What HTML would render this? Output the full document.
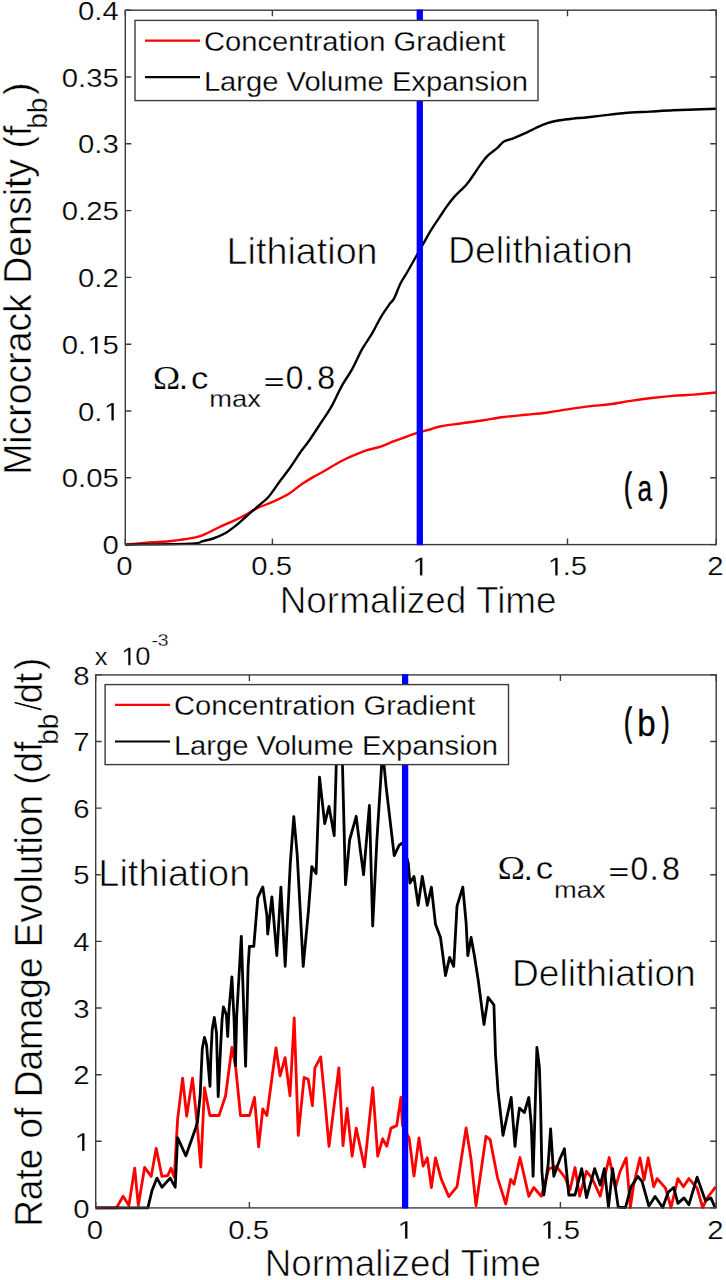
<!DOCTYPE html>
<html><head><meta charset="utf-8"><title>Microcrack density</title>
<style>
html,body{margin:0;padding:0;background:#fff;}
body{width:726px;height:1280px;overflow:hidden;font-family:"Liberation Sans",sans-serif;}
svg{display:block;}
.b{stroke:#fff;stroke-width:0.7px;}
.s{stroke:#fff;stroke-width:0.25px;}
.g1{vector-effect:non-scaling-stroke;}
.k{stroke:#000;stroke-width:1.3px;}
.inv{fill-opacity:0;stroke-opacity:0;}
.k2{stroke:#000;stroke-width:0.3px;}
.b2{stroke:#fff;stroke-width:0.45px;}
</style></head><body>
<svg width="726" height="1280" viewBox="0 0 726 1280" font-family="'Liberation Sans', sans-serif" fill="#000">
<rect width="726" height="1280" fill="#fff"/>
<path d="M125.3,544.6C128.9,544.3 139.7,543.2 147.0,542.6C154.3,542.0 163.6,541.8 169.1,541.3C174.6,540.8 175.5,540.6 180.1,539.9C184.7,539.2 192.0,538.2 196.6,537.1C201.2,536.0 203.5,534.8 207.6,533.0C211.7,531.2 216.8,528.2 221.4,526.1C226.0,524.0 231.1,522.0 235.2,520.1C239.3,518.2 242.5,516.5 246.2,514.5C249.9,512.5 252.6,510.4 257.2,508.2C261.8,506.0 268.3,503.9 273.8,501.3C279.3,498.8 285.4,495.8 290.0,492.9C294.6,490.0 297.8,486.8 301.6,484.2C305.5,481.6 309.2,479.4 313.1,477.1C317.0,474.9 320.2,473.3 324.7,470.7C329.2,468.1 335.3,464.3 340.1,461.7C344.9,459.1 349.1,457.2 353.6,455.3C358.1,453.4 362.6,451.6 367.1,450.1C371.6,448.7 376.1,448.1 380.6,446.6C385.1,445.1 389.9,442.8 394.1,441.2C398.3,439.6 401.8,438.4 405.7,437.0C409.6,435.6 413.2,434.1 417.3,432.8C421.4,431.6 426.0,430.6 430.0,429.5C434.0,428.4 435.8,427.2 441.1,426.2C446.5,425.2 455.1,424.3 462.1,423.3C469.1,422.3 476.2,421.4 483.2,420.3C490.2,419.2 497.3,417.9 504.3,417.0C511.3,416.1 518.4,415.5 525.4,414.8C532.4,414.1 539.4,413.6 546.4,412.7C553.4,411.8 560.5,410.4 567.5,409.4C574.5,408.3 581.6,407.2 588.6,406.4C595.6,405.5 602.7,405.2 609.7,404.3C616.7,403.4 623.7,401.9 630.7,400.9C637.7,399.8 644.8,398.8 651.8,398.0C658.8,397.2 665.9,396.5 672.9,395.9C679.9,395.3 686.8,395.2 694.0,394.6C701.2,394.0 712.5,392.9 716.2,392.5" fill="none" stroke="#ff0000" stroke-width="2.4" stroke-linejoin="round"/>
<path d="M125.3,544.6C136.3,544.4 178.3,544.2 191.1,543.6C203.9,543.0 198.4,542.1 202.1,541.3C205.8,540.4 209.5,539.8 213.2,538.5C216.9,537.2 220.5,535.9 224.2,533.8C227.9,531.7 231.5,529.0 235.2,526.1C238.9,523.2 242.5,519.7 246.2,516.5C249.9,513.3 253.5,510.0 257.2,506.8C260.9,503.6 264.5,501.3 268.2,497.2C271.9,493.1 275.7,486.9 279.3,482.0C282.9,477.1 286.3,473.1 290.0,467.8C293.7,462.6 298.3,455.1 301.6,450.5C304.9,445.9 306.2,444.9 309.6,440.0C313.0,435.1 318.3,426.8 322.0,421.2C325.7,415.6 328.5,411.8 331.7,406.1C334.9,400.4 337.9,393.0 341.3,386.8C344.7,380.6 348.8,375.2 352.3,368.9C355.8,362.6 358.8,355.0 362.1,349.1C365.4,343.2 368.9,339.0 372.0,333.7C375.1,328.4 377.9,322.1 380.9,317.1C383.8,312.1 387.5,307.0 389.7,303.9C391.9,300.8 392.3,301.9 394.1,298.4C395.9,294.9 398.5,287.4 400.7,283.0C402.9,278.6 404.7,276.4 407.3,272.0C409.9,267.6 413.3,261.4 416.1,256.5C418.9,251.6 421.3,247.2 423.9,242.7C426.5,238.1 429.0,233.4 431.6,229.2C434.2,225.0 436.7,221.4 439.3,217.6C441.9,213.8 444.4,209.6 447.0,206.1C449.6,202.6 451.5,199.9 454.7,196.4C457.9,192.9 463.1,188.5 466.3,184.8C469.5,181.1 471.8,177.4 474.0,174.2C476.2,171.0 477.6,168.6 479.8,165.6C482.1,162.6 484.6,158.8 487.5,155.9C490.4,153.0 494.4,150.6 497.1,148.2C499.8,145.8 501.3,143.1 503.9,141.5C506.5,139.9 509.2,139.9 512.6,138.6C516.0,137.3 520.2,135.5 524.1,133.7C528.0,131.9 531.8,129.8 535.7,128.0C539.6,126.2 543.2,124.4 547.3,123.1C551.3,121.8 555.7,121.0 560.0,120.2C564.3,119.5 568.3,119.1 573.0,118.6C577.7,118.1 581.8,117.9 588.0,117.2C594.2,116.5 602.8,115.4 610.0,114.6C617.2,113.8 624.3,113.0 631.0,112.5C637.7,112.0 643.0,112.0 650.0,111.6C657.0,111.2 665.5,110.6 673.0,110.3C680.5,110.0 687.8,109.8 695.0,109.5C702.2,109.2 712.7,108.9 716.2,108.8" fill="none" stroke="#000" stroke-width="2.4" stroke-linejoin="round"/>
<rect x="125.3" y="10.2" width="590.9" height="534.4" fill="none" stroke="#3c3c3c" stroke-width="1.4"/>
<path d="M125.3,544.6v-6M125.3,10.2v6M272.4,544.6v-6M272.4,10.2v6M420.0,544.6v-6M420.0,10.2v6M567.5,544.6v-6M567.5,10.2v6M716.2,544.6v-6M716.2,10.2v6M125.3,544.6h6M716.2,544.6h-6M125.3,477.8h6M716.2,477.8h-6M125.3,411.0h6M716.2,411.0h-6M125.3,344.2h6M716.2,344.2h-6M125.3,277.4h6M716.2,277.4h-6M125.3,210.6h6M716.2,210.6h-6M125.3,143.8h6M716.2,143.8h-6M125.3,77.0h6M716.2,77.0h-6M125.3,10.2h6M716.2,10.2h-6" stroke="#3c3c3c" stroke-width="1.4" fill="none"/>
<line x1="419.8" y1="9.5" x2="419.8" y2="545.3" stroke="#0000ff" stroke-width="6.3"/>
<text class="s" transform="translate(118.80,554.20) scale(1.1500,1.0000)" font-size="25.5" text-anchor="end" >0</text>
<text class="s" transform="translate(118.80,487.40) scale(1.1500,1.0000)" font-size="25.5" text-anchor="end" >0.05</text>
<path class="s g1" d="M615,0L615,1237L297,1010L297,1180L630,1409L796,1409L796,0Z" transform="translate(102.49,420.60) scale(0.01432,-0.01245)"/>
<text class="s" transform="translate(118.80,420.60) scale(1.1500,1.0000)" font-size="25.5" text-anchor="end" >0.<tspan class="inv">1</tspan></text>
<path class="s g1" d="M615,0L615,1237L297,1010L297,1180L630,1409L796,1409L796,0Z" transform="translate(86.18,353.80) scale(0.01432,-0.01245)"/>
<text class="s" transform="translate(118.80,353.80) scale(1.1500,1.0000)" font-size="25.5" text-anchor="end" >0.<tspan class="inv">1</tspan>5</text>
<text class="s" transform="translate(118.80,287.00) scale(1.1500,1.0000)" font-size="25.5" text-anchor="end" >0.2</text>
<text class="s" transform="translate(118.80,220.20) scale(1.1500,1.0000)" font-size="25.5" text-anchor="end" >0.25</text>
<text class="s" transform="translate(118.80,153.40) scale(1.1500,1.0000)" font-size="25.5" text-anchor="end" >0.3</text>
<text class="s" transform="translate(118.80,86.60) scale(1.1500,1.0000)" font-size="25.5" text-anchor="end" >0.35</text>
<text class="s" transform="translate(118.80,19.80) scale(1.1500,1.0000)" font-size="25.5" text-anchor="end" >0.4</text>
<text class="s" transform="translate(124.50,575.40) scale(1.1500,1.0000)" font-size="25.5" text-anchor="middle" >0</text>
<text class="s" transform="translate(271.60,575.40) scale(1.1500,1.0000)" font-size="25.5" text-anchor="middle" >0.5</text>
<path class="s g1" d="M615,0L615,1237L297,1010L297,1180L630,1409L796,1409L796,0Z" transform="translate(411.05,575.40) scale(0.01432,-0.01245)"/>
<text class="s" transform="translate(419.20,575.40) scale(1.1500,1.0000)" font-size="25.5" text-anchor="middle" ><tspan class="inv">1</tspan></text>
<path class="s g1" d="M615,0L615,1237L297,1010L297,1180L630,1409L796,1409L796,0Z" transform="translate(546.32,575.40) scale(0.01432,-0.01245)"/>
<text class="s" transform="translate(566.70,575.40) scale(1.1500,1.0000)" font-size="25.5" text-anchor="middle" ><tspan class="inv">1</tspan>.5</text>
<text class="s" transform="translate(715.40,575.40) scale(1.1500,1.0000)" font-size="25.5" text-anchor="middle" >2</text>
<rect x="135.0" y="20.4" width="403.0" height="80.2" fill="#fff" stroke="#3c3c3c" stroke-width="1.4"/>
<line x1="145" y1="40.6" x2="200" y2="40.6" stroke="#ff0000" stroke-width="2.2"/>
<line x1="145" y1="77.2" x2="200" y2="77.2" stroke="#000" stroke-width="2.2"/>
<text class="s" transform="translate(203.90,50.60) scale(1.0800,1.0000)" font-size="27" text-anchor="start" >Concentration Gradient</text>
<text class="s" transform="translate(203.90,90.80) scale(1.0800,1.0000)" font-size="27" text-anchor="start" >Large Volume Expansion</text>
<text class="b" transform="translate(418.15,613.00) scale(1.0260,1.0350)" font-size="36" text-anchor="middle" >Normalized Time</text>
<text class="b2" transform="translate(31,278.7) rotate(-90) scale(1.039,1.055)" font-size="36" text-anchor="middle">Microcrack Density (f<tspan font-size="27" dy="15.2" dx="-3" stroke-width="0.25">bb</tspan><tspan dy="-15.2" dx="2.5">)</tspan></text>
<text class="b" transform="translate(226.60,264.00) scale(1.0480,1.0350)" font-size="36" text-anchor="start" >Lithiation</text>
<text class="b" transform="translate(448.10,262.60) scale(1.0370,1.0350)" font-size="36" text-anchor="start" >Delithiation</text>
<text class="s" transform="translate(152.74,388.90) scale(1.0957,1)" font-size="33.94" font-family="'Liberation Serif', serif">&#937;</text>
<text class="s" transform="translate(178.48,389.20) scale(1.0526,1)" font-size="34.00">.</text>
<text class="s" transform="translate(190.94,388.58) scale(1.0828,1)" font-size="32.00">c</text>
<text class="s" transform="translate(209.32,407.26) scale(1.1217,1)" font-size="24.36">max</text>
<text class="s" transform="translate(263.59,389.59) scale(1.5081,1)" font-size="24.06">=</text>
<text class="s" transform="translate(285.83,389.46) scale(0.9483,1)" font-size="33.52">0</text>
<text class="s" transform="translate(304.77,390.00) scale(0.9907,1)" font-size="34.00">.</text>
<text class="s" transform="translate(317.25,389.46) scale(0.9584,1)" font-size="33.52">8</text>
<text class="k" transform="translate(624.34,500.22) scale(0.5677,1)" font-size="38.54">(</text>
<text class="k2" transform="translate(637.58,501.14) scale(0.7164,1)" font-size="36.69">a</text>
<text class="k" transform="translate(659.96,500.22) scale(0.6363,1)" font-size="38.54">)</text>
<polyline points="95.7,1207.9 116.5,1207.9 123.1,1196.3 128.9,1205.4 134.7,1168.2 138.3,1205.4 144.6,1167.4 151.2,1176.4 156.2,1148.3 161.9,1176.4 167.7,1175.6 171.0,1168.2 174.3,1177.3 177.6,1119.4 182.6,1078.1 186.7,1116.1 192.5,1078.1 196.7,1119.4 200.8,1167.0 204.5,1087.7 209.9,1115.5 219.0,1115.5 225.6,1095.7 231.9,1047.5 235.6,1066.3 240.5,1115.5 249.5,1115.5 254.5,1097.4 258.6,1146.9 262.8,1108.9 266.9,1115.5 276.0,1047.8 280.1,1075.9 285.1,1057.7 290.0,1095.7 294.2,1018.0 298.3,1135.4 304.1,1077.5 308.2,1079.2 312.4,1105.6 314.9,1067.8 320.7,1057.0 324.8,1099.2 329.0,1146.3 333.9,1107.4 338.9,1067.8 343.0,1145.5 347.1,1108.3 352.1,1156.2 356.2,1128.1 364.5,1166.9 372.8,1087.6 377.7,1156.2 382.7,1138.8 386.8,1146.3 391.0,1128.1 396.7,1125.6 400.9,1097.5 402.5,1125.6 409.1,1137.9 414.0,1176.0 419.0,1137.9 423.1,1166.0 427.3,1157.8 431.4,1187.5 435.5,1157.8 441.3,1179.3 448.8,1196.6 457.0,1186.7 466.1,1128.0 471.1,1159.4 476.0,1205.7 486.0,1136.3 490.1,1139.6 497.5,1177.6 505.8,1204.0 510.7,1179.3 514.0,1184.2 520.0,1157.5 528.8,1196.3 533.8,1187.5 541.3,1196.3 548.8,1168.8 556.3,1166.3 565.0,1177.5 570.0,1190.0 575.0,1167.5 579.6,1196.1 586.5,1171.3 592.0,1178.2 600.2,1196.1 609.2,1157.5 615.4,1187.9 620.0,1171.7 626.2,1157.9 630.3,1207.5 633.8,1184.1 640.0,1157.9 644.1,1180.0 648.2,1157.9 653.7,1186.8 657.2,1178.6 665.5,1188.2 671.0,1207.5 677.9,1178.6 683.4,1186.8 688.9,1178.6 697.1,1188.2 702.6,1207.5 708.2,1196.5 715.7,1186.8" fill="none" stroke="#ff0000" stroke-width="2.8" stroke-linejoin="round"/>
<polyline points="95.7,1207.9 147.9,1207.9 152.0,1190.5 157.0,1178.1 161.9,1187.2 170.2,1178.1 175.2,1187.2 177.6,1137.6 185.9,1155.8 195.8,1127.7 197.5,1121.7 200.2,1095.0 201.4,1067.4 202.3,1048.5 204.5,1037.3 206.6,1045.1 207.5,1057.1 210.0,1086.3 210.9,1055.4 212.2,1029.6 214.3,1017.5 216.5,1033.0 218.2,1096.7 220.8,1043.3 222.1,1019.2 223.4,1006.8 226.4,1014.9 227.7,1036.5 229.0,1009.8 231.9,976.9 234.1,1020.1 235.4,1065.7 236.7,1015.8 241.3,936.3 245.6,1066.3 248.1,967.5 249.4,946.3 253.8,946.3 257.8,897.7 262.8,886.9 266.9,915.9 267.7,934.0 271.9,896.9 276.8,955.5 280.9,887.2 285.2,966.3 290.3,863.1 293.8,816.7 297.2,854.6 303.2,966.3 308.4,911.3 311.8,866.6 316.1,873.5 319.5,777.2 324.7,823.6 329.0,806.4 334.2,835.6 336.7,750.0 342.1,750.0 345.5,884.6 349.6,840.0 356.2,816.3 360.3,850.0 363.6,874.7 369.4,805.5 372.7,926.0 376.9,840.0 382.6,750.0 386.0,785.7 392.6,841.9 394.2,855.7 399.2,845.2 402.5,843.0 408.3,863.1 409.9,883.0 414.0,876.4 418.2,905.3 422.3,876.4 427.3,905.3 431.4,887.1 435.5,924.3 440.5,937.5 445.5,975.5 449.6,957.4 453.7,966.4 457.0,906.1 462.8,887.1 466.1,922.6 467.8,955.7 471.1,937.5 474.4,955.7 478.2,980.0 484.0,1024.6 488.1,997.4 493.9,1004.8 495.5,1054.4 498.0,1090.7 503.0,1135.4 511.2,1097.4 515.0,1146.3 516.9,1127.5 519.4,1108.1 524.4,1112.5 528.8,1097.5 531.3,1125.0 533.1,1176.3 535.0,1112.5 536.9,1047.5 539.4,1067.5 540.6,1105.0 541.9,1171.3 543.8,1195.0 548.1,1165.0 550.6,1128.8 553.8,1176.3 560.0,1158.8 564.4,1148.8 568.8,1195.0 575.0,1195.0 581.7,1168.6 586.5,1197.5 594.7,1168.6 600.2,1185.1 604.4,1168.6 608.5,1207.1 612.6,1168.6 618.2,1207.1 625.5,1207.5 631.0,1186.8 637.9,1176.5 642.0,1181.3 648.9,1206.1 655.1,1196.5 662.7,1207.5 668.2,1192.3 673.7,1187.5 677.9,1203.4 684.0,1197.9 688.9,1204.7 697.1,1177.2 705.4,1200.6 710.9,1197.9 715.0,1207.5" fill="none" stroke="#000" stroke-width="2.8" stroke-linejoin="round"/>
<rect x="95.7" y="674.9" width="620.5" height="533.0" fill="none" stroke="#3c3c3c" stroke-width="1.4"/>
<path d="M95.7,1207.9v-6M95.7,674.9v6M249.4,1207.9v-6M249.4,674.9v6M405.1,1207.9v-6M405.1,674.9v6M560.4,1207.9v-6M560.4,674.9v6M716.2,1207.9v-6M716.2,674.9v6M95.7,1207.9h6M716.2,1207.9h-6M95.7,1141.3h6M716.2,1141.3h-6M95.7,1074.7h6M716.2,1074.7h-6M95.7,1008.0h6M716.2,1008.0h-6M95.7,941.4h6M716.2,941.4h-6M95.7,874.8h6M716.2,874.8h-6M95.7,808.1h6M716.2,808.1h-6M95.7,741.5h6M716.2,741.5h-6M95.7,674.9h6M716.2,674.9h-6" stroke="#3c3c3c" stroke-width="1.4" fill="none"/>
<line x1="405.1" y1="674.2" x2="405.1" y2="1208.6" stroke="#0000ff" stroke-width="6.3"/>
<text class="s" transform="translate(89.50,1217.50) scale(1.1500,1.0000)" font-size="25.5" text-anchor="end" >0</text>
<path class="s g1" d="M615,0L615,1237L297,1010L297,1180L630,1409L796,1409L796,0Z" transform="translate(73.19,1150.88) scale(0.01432,-0.01245)"/>
<text class="s" transform="translate(89.50,1150.88) scale(1.1500,1.0000)" font-size="25.5" text-anchor="end" ><tspan class="inv">1</tspan></text>
<text class="s" transform="translate(89.50,1084.25) scale(1.1500,1.0000)" font-size="25.5" text-anchor="end" >2</text>
<text class="s" transform="translate(89.50,1017.63) scale(1.1500,1.0000)" font-size="25.5" text-anchor="end" >3</text>
<text class="s" transform="translate(89.50,951.00) scale(1.1500,1.0000)" font-size="25.5" text-anchor="end" >4</text>
<text class="s" transform="translate(89.50,884.38) scale(1.1500,1.0000)" font-size="25.5" text-anchor="end" >5</text>
<text class="s" transform="translate(89.50,817.75) scale(1.1500,1.0000)" font-size="25.5" text-anchor="end" >6</text>
<text class="s" transform="translate(89.50,751.12) scale(1.1500,1.0000)" font-size="25.5" text-anchor="end" >7</text>
<text class="s" transform="translate(89.50,684.50) scale(1.1500,1.0000)" font-size="25.5" text-anchor="end" >8</text>
<text class="s" transform="translate(94.90,1238.70) scale(1.1500,1.0000)" font-size="25.5" text-anchor="middle" >0</text>
<text class="s" transform="translate(248.65,1238.70) scale(1.1500,1.0000)" font-size="25.5" text-anchor="middle" >0.5</text>
<path class="s g1" d="M615,0L615,1237L297,1010L297,1180L630,1409L796,1409L796,0Z" transform="translate(396.15,1238.70) scale(0.01432,-0.01245)"/>
<text class="s" transform="translate(404.30,1238.70) scale(1.1500,1.0000)" font-size="25.5" text-anchor="middle" ><tspan class="inv">1</tspan></text>
<path class="s g1" d="M615,0L615,1237L297,1010L297,1180L630,1409L796,1409L796,0Z" transform="translate(539.22,1238.70) scale(0.01432,-0.01245)"/>
<text class="s" transform="translate(559.60,1238.70) scale(1.1500,1.0000)" font-size="25.5" text-anchor="middle" ><tspan class="inv">1</tspan>.5</text>
<text class="s" transform="translate(715.40,1238.70) scale(1.1500,1.0000)" font-size="25.5" text-anchor="middle" >2</text>
<text class="s" transform="translate(94.72,665.10) scale(1.0631,1)" font-size="23.96">x</text>
<path class="s g1" d="M615,0L615,1237L297,1010L297,1180L630,1409L796,1409L796,0Z" transform="translate(119.95,665.25) scale(0.01335,-0.01238)"/>
<text class="s" transform="translate(119.95,665.25) scale(1.0783,1)" font-size="25.35"><tspan class="inv">1</tspan>0</text>
<text class="s" transform="translate(151.43,646.33) scale(1.1464,1)" font-size="16.90">-3</text>
<rect x="105.1" y="684.6" width="403.4" height="80.0" fill="#fff" stroke="#3c3c3c" stroke-width="1.4"/>
<line x1="115" y1="704.9" x2="170" y2="704.9" stroke="#ff0000" stroke-width="2.2"/>
<line x1="115" y1="741.5" x2="170" y2="741.5" stroke="#000" stroke-width="2.2"/>
<text class="s" transform="translate(173.90,714.80) scale(1.0800,1.0000)" font-size="27" text-anchor="start" >Concentration Gradient</text>
<text class="s" transform="translate(173.90,755.00) scale(1.0800,1.0000)" font-size="27" text-anchor="start" >Large Volume Expansion</text>
<text class="b" transform="translate(402.85,1275.50) scale(1.0230,1.0350)" font-size="36" text-anchor="middle" >Normalized Time</text>
<text class="b2" transform="translate(42.2,942.3) rotate(-90) scale(1.028,1.055)" font-size="36" text-anchor="middle">Rate of Damage Evolution (df<tspan font-size="27" dy="15.2" dx="-3" stroke-width="0.25">bb</tspan><tspan dy="-15.2" dx="2.5" stroke-width="1.0">/</tspan><tspan dx="-2.5">dt</tspan><tspan dx="2.5">)</tspan></text>
<text class="b" transform="translate(98.30,886.30) scale(1.0550,1.0350)" font-size="36" text-anchor="start" >Lithiation</text>
<text class="b" transform="translate(512.00,986.10) scale(1.0320,1.0350)" font-size="36" text-anchor="start" >Delithiation</text>
<text class="s" transform="translate(497.44,879.20) scale(1.0957,1)" font-size="33.94" font-family="'Liberation Serif', serif">&#937;</text>
<text class="s" transform="translate(523.18,879.50) scale(1.0526,1)" font-size="34.00">.</text>
<text class="s" transform="translate(535.64,878.88) scale(1.0828,1)" font-size="32.00">c</text>
<text class="s" transform="translate(554.02,897.56) scale(1.1217,1)" font-size="24.36">max</text>
<text class="s" transform="translate(608.29,879.89) scale(1.5081,1)" font-size="24.06">=</text>
<text class="s" transform="translate(630.53,879.76) scale(0.9483,1)" font-size="33.52">0</text>
<text class="s" transform="translate(649.47,880.30) scale(0.9907,1)" font-size="34.00">.</text>
<text class="s" transform="translate(661.95,879.76) scale(0.9584,1)" font-size="33.52">8</text>
<text class="k" transform="translate(624.34,735.42) scale(0.5677,1)" font-size="38.54">(</text>
<text class="k2" transform="translate(637.26,735.63) scale(0.8816,1)" font-size="37.58">b</text>
<text class="k" transform="translate(662.07,735.42) scale(0.5677,1)" font-size="38.54">)</text>
</svg>
</body></html>
